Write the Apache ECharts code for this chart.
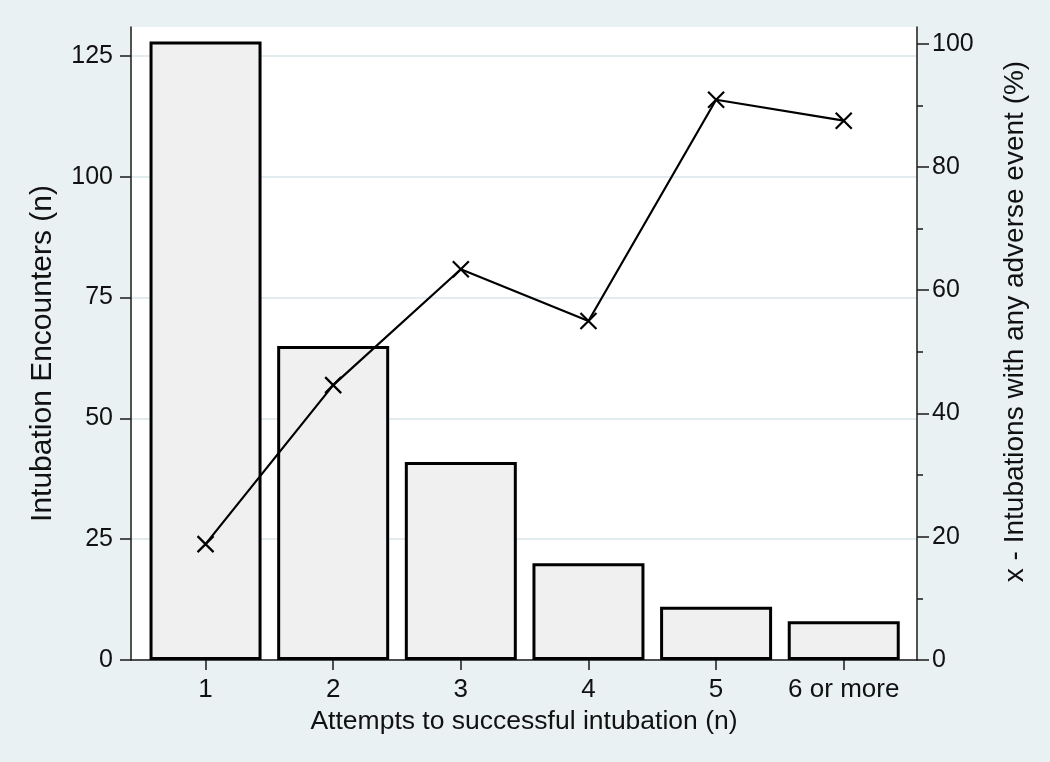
<!DOCTYPE html>
<html>
<head>
<meta charset="utf-8">
<script src="https://cdn.jsdelivr.net/npm/echarts@6/dist/echarts.min.js"></script>
<style>
  html, body { margin: 0; padding: 0; background: #eaf1f3; }
  #chart { width: 1050px; height: 762px; }
</style>
</head>
<body>
<div id="chart"></div>
<script>
// attempts to successful intubation
const attempts = [1, 2, 3, 4, 5, 6];
const attemptLabels = ['1', '2', '3', '4', '5', '6 or more'];
// intubation encounters (n)
const encounters = [128, 65, 41, 20, 11, 8];
// intubations with any adverse event (%)
const adversePct = [18.8, 44.6, 63.4, 55.0, 90.9, 87.5];

const leftTicks = [0, 25, 50, 75, 100, 125];
const rightTicks = [0, 20, 40, 60, 80, 100];
const rightMinor = [10, 30, 50, 70, 90];

const font = "'Liberation Sans', Arial, Helvetica, sans-serif";
const axisColor = '#1a1a1a';

const chart = echarts.init(document.getElementById('chart'));

const option = {
    backgroundColor: '#eaf1f3',
    animation: false,
    textStyle: { fontFamily: font },
    grid: {
        left: 131, right: 133, top: 27, bottom: 102,
        show: true, backgroundColor: '#ffffff', borderWidth: 0
    },
    xAxis: {
        type: 'value',
        min: 0.416,
        max: 6.574,
        name: 'Attempts to successful intubation (n)',
        nameLocation: 'middle',
        nameGap: 44,
        nameTextStyle: { fontSize: 26.5, color: '#111', fontFamily: font },
        axisLine: { show: true, onZero: false, lineStyle: { color: axisColor, width: 1.5 } },
        axisTick: { show: true, length: 10, customValues: attempts, lineStyle: { color: axisColor, width: 1.5 } },
        axisLabel: {
            customValues: attempts,
            margin: 17,
            fontSize: 26,
            color: '#111',
            fontFamily: font,
            formatter: v => attemptLabels[attempts.indexOf(v)]
        },
        splitLine: { show: false }
    },
    yAxis: [
        {
            type: 'value',
            position: 'left',
            min: 0,
            max: 131,
            name: 'Intubation Encounters (n)',
            nameLocation: 'middle',
            nameGap: 73,
            nameTextStyle: { fontSize: 30, color: '#111', fontFamily: font, padding: [0, 20, 0, 0] },
            axisLine: { show: true, lineStyle: { color: axisColor, width: 1.5 } },
            axisTick: { show: true, length: 11, customValues: leftTicks, lineStyle: { color: axisColor, width: 1.5 } },
            axisLabel: { customValues: leftTicks, margin: 18, fontSize: 25, color: '#111', fontFamily: font },
            splitLine: { show: true, lineStyle: { color: '#e2ecef', width: 2 } }
        },
        {
            type: 'value',
            position: 'right',
            min: 0,
            max: 102.7,
            name: 'x - Intubations with any adverse event (%)',
            nameLocation: 'middle',
            nameGap: 84,
            nameRotate: 90,
            nameTextStyle: { fontSize: 28, color: '#111', fontFamily: font, padding: [0, 0, 0, 44] },
            axisLine: { show: true, lineStyle: { color: axisColor, width: 1.5 } },
            axisTick: { show: true, length: 12, customValues: rightTicks, lineStyle: { color: axisColor, width: 1.5 } },
            axisLabel: { customValues: rightTicks, margin: 15, fontSize: 25, color: '#111', fontFamily: font },
            splitLine: { show: false }
        },
        {
            // minor ticks on the right axis
            type: 'value',
            position: 'right',
            min: 0,
            max: 102.7,
            axisLine: { show: false },
            axisTick: { show: true, length: 6, customValues: rightMinor, lineStyle: { color: axisColor, width: 1.5 } },
            axisLabel: { show: false },
            splitLine: { show: false }
        }
    ],
    series: [
        {
            type: 'bar',
            yAxisIndex: 0,
            barWidth: 112,
            data: attempts.map((a, i) => [a, encounters[i]]),
            itemStyle: { color: '#f0f0f0', borderColor: '#000', borderWidth: 3 }
        },
        {
            type: 'line',
            yAxisIndex: 1,
            data: attempts.map((a, i) => [a, adversePct[i]]),
            lineStyle: { color: '#000', width: 2.2 },
            symbol: 'path://M0,0L10,10M10,0L0,10',
            symbolSize: 16,
            itemStyle: { color: 'transparent', borderColor: '#000', borderWidth: 2.2 },
            z: 5
        }
    ]
};

chart.setOption(option);
</script>
</body>
</html>
